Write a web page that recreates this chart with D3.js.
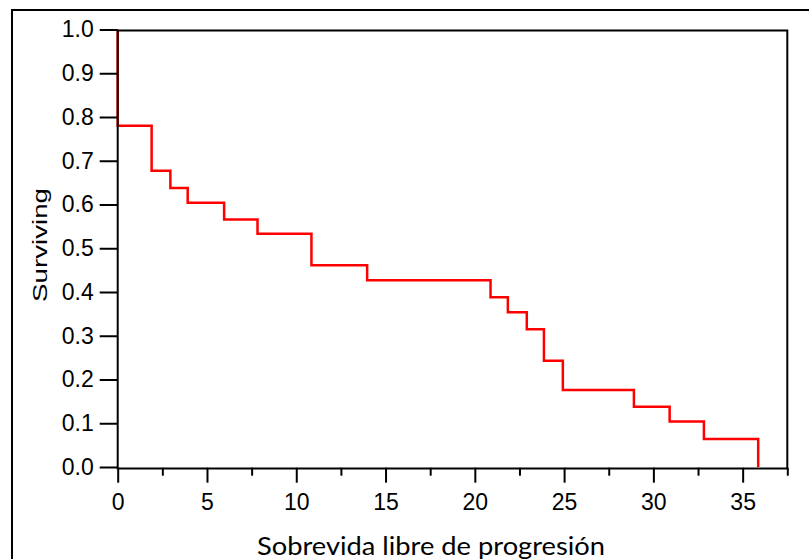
<!DOCTYPE html>
<html>
<head>
<meta charset="utf-8">
<script src="https://cdn.jsdelivr.net/npm/d3@7"></script>
<style>
  html, body { margin: 0; padding: 0; background: #ffffff; }
  svg { display: block; }
</style>
</head>
<body>
<svg id="chart" width="809" height="559"></svg>
<script>
// Kaplan–Meier estimate: event times (months) and surviving fraction after each drop
const eventTimes = [0, 1.9, 2.95, 3.92, 5.96, 7.83, 10.85, 13.97, 20.88, 21.85, 22.91, 23.87, 24.93, 28.91, 30.91, 32.83, 35.87];
const survival   = [0.78, 0.677, 0.638, 0.604, 0.566, 0.533, 0.461, 0.427, 0.388, 0.354, 0.315, 0.243, 0.176, 0.138, 0.104, 0.064, 0];

const yTicks = [0, 0.1, 0.2, 0.3, 0.4, 0.5, 0.6, 0.7, 0.8, 0.9, 1.0];
const xMajorTicks = [0, 5, 10, 15, 20, 25, 30, 35];
const xMinorTicks = [2.5, 7.5, 12.5, 17.5, 22.5, 27.5, 32.5, 37.5];

const xTitle = "Sobrevida libre de progresión";
const yTitle = "Surviving";

const svg = d3.select("#chart");

const x = d3.scaleLinear().domain([0, 37.5]).range([117.7, 787.3]);
const y = d3.scaleLinear().domain([0, 1]).range([467, 29.5]);

// outer border of the figure
svg.append("rect")
  .attr("x", 12).attr("y", 10)
  .attr("width", 900).attr("height", 700)
  .attr("fill", "none").attr("stroke", "#000").attr("stroke-width", 2);

// survival curve, starting from 1.0 at time zero
const pts = [[0, 1]].concat(eventTimes.map((t, i) => [t, survival[i]]));
const line = d3.line()
  .x(d => x(d[0]))
  .y(d => y(d[1]))
  .curve(d3.curveStepAfter);

svg.append("path")
  .datum(pts)
  .attr("d", line)
  .attr("fill", "none")
  .attr("stroke", "#ff0000")
  .attr("stroke-width", 2.5);

// plot frame
svg.append("rect")
  .attr("x", x(0))
  .attr("y", y(1) + 1)
  .attr("width", x(37.5) - x(0))
  .attr("height", y(0) - y(1) + 0.5)
  .attr("fill", "none")
  .attr("stroke", "#000")
  .attr("stroke-width", 2);

const tickFont = "'Liberation Sans', Arial, sans-serif";

// y axis
const yAxis = svg.append("g")
  .attr("transform", `translate(${x(0)},0)`)
  .call(d3.axisLeft(y).tickValues(yTicks).tickSize(18).tickPadding(6).tickFormat(d3.format(".1f")));
yAxis.select(".domain").remove();
yAxis.selectAll(".tick line").attr("stroke", "#000").attr("stroke-width", 2);
yAxis.selectAll(".tick text")
  .attr("font-family", tickFont).attr("font-size", 23).attr("fill", "#000");

// x axis: major ticks with labels
const xAxis = svg.append("g")
  .attr("transform", `translate(0,${y(0) + 0.7})`)
  .call(d3.axisBottom(x).tickValues(xMajorTicks).tickSize(15).tickPadding(11).tickFormat(d3.format("d")));
xAxis.select(".domain").remove();
xAxis.selectAll(".tick line").attr("stroke", "#000").attr("stroke-width", 2);
xAxis.selectAll(".tick text")
  .attr("font-family", tickFont).attr("font-size", 23).attr("fill", "#000");

// x axis: minor ticks
const xMinor = svg.append("g")
  .attr("transform", `translate(0,${y(0) + 0.7})`)
  .call(d3.axisBottom(x).tickValues(xMinorTicks).tickSize(8).tickFormat(""));
xMinor.select(".domain").remove();
xMinor.selectAll(".tick line").attr("stroke", "#000").attr("stroke-width", 2);

// axis titles
svg.append("text")
  .attr("transform", "translate(47,245) rotate(-90)")
  .attr("text-anchor", "middle")
  .attr("font-family", tickFont)
  .attr("font-size", 21)
  .attr("textLength", 114)
  .attr("lengthAdjust", "spacingAndGlyphs")
  .text(yTitle);

svg.append("text")
  .attr("x", 257)
  .attr("y", 555)
  .attr("font-family", "Lato, 'Open Sans', sans-serif")
  .attr("font-size", 25.5)
  .attr("textLength", 348)
  .attr("lengthAdjust", "spacingAndGlyphs")
  .attr("fill", "#000")
  .text(xTitle);
</script>
</body>
</html>
